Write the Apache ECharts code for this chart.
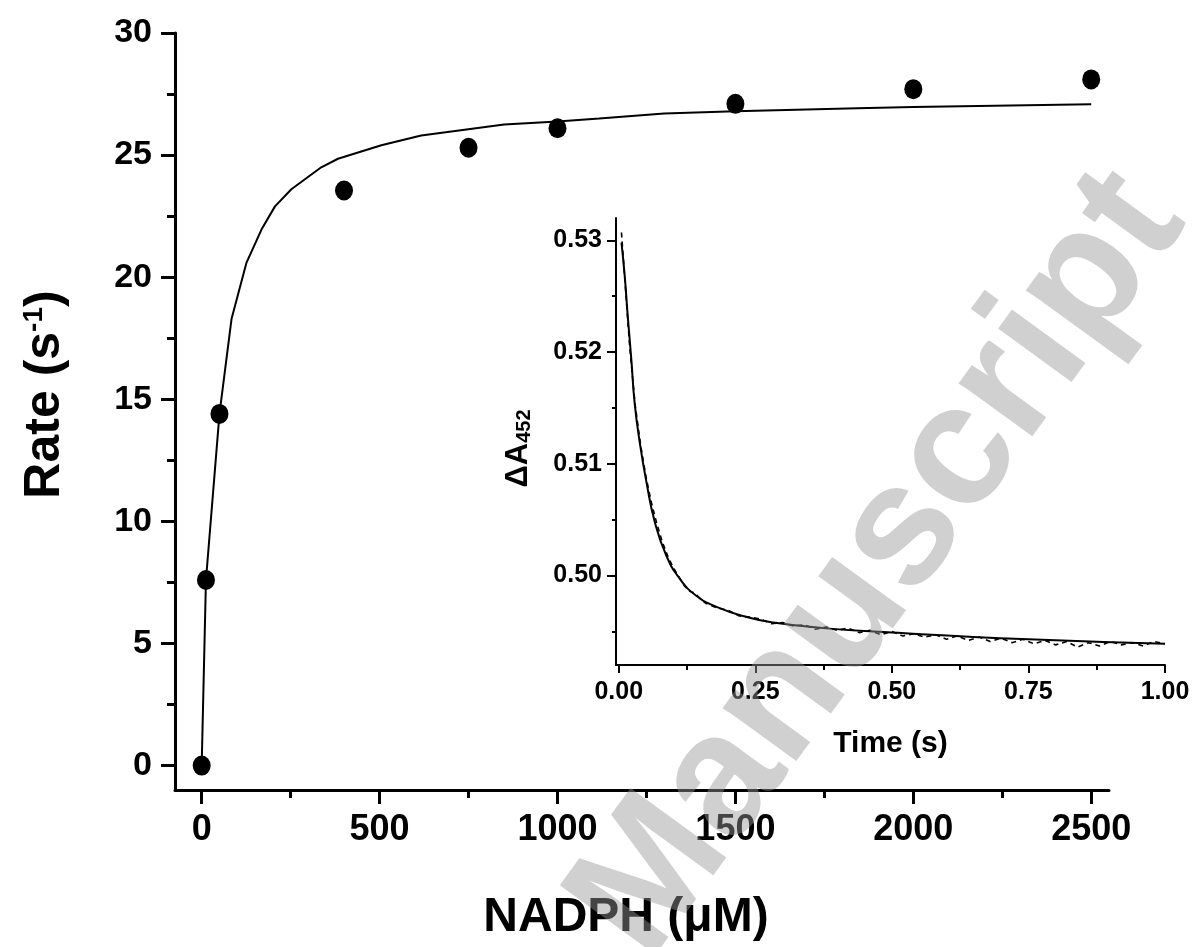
<!DOCTYPE html>
<html>
<head>
<meta charset="utf-8">
<script src="https://cdn.jsdelivr.net/npm/echarts@6/dist/echarts.min.js"></script>
<style>
  html, body { margin: 0; padding: 0; background: #fff; }
  #chart { width: 1196px; height: 947px; }
</style>
</head>
<body>
<div id="chart"></div>
<script>
// main panel: rate vs NADPH
const nadph = [0, 12, 50, 400, 750, 1000, 1500, 2000, 2500]
const rate = [0, 7.6, 14.4, 23.55, 25.3, 26.1, 27.1, 27.7, 28.1]
// fitted curve
const fitX = [0, 12, 50, 84, 126, 168, 206, 252, 336, 383, 505, 617, 850, 1000, 1117, 1300, 1500, 1842, 2000, 2500]
const fitY = [0, 7.6, 14.4, 18.3, 20.6, 21.95, 22.9, 23.6, 24.5, 24.85, 25.4, 25.8, 26.25, 26.38, 26.5, 26.7, 26.8, 26.92, 26.97, 27.08]
const xTicks = [0, 500, 1000, 1500, 2000, 2500]
const xMinor = [250, 750, 1250, 1750, 2250]
const yTicks = [0, 5, 10, 15, 20, 25, 30]
const yMinor = [2.5, 7.5, 12.5, 17.5, 22.5, 27.5]

// inset: absorbance trace
const traceT = [0.005, 0.01, 0.02, 0.03, 0.04, 0.05, 0.06, 0.07, 0.08, 0.09, 0.10, 0.11, 0.12, 0.13, 0.14, 0.15, 0.16, 0.18, 0.20, 0.22, 0.24, 0.26, 0.28, 0.30, 0.32, 0.34, 0.36, 0.38, 0.40, 0.42, 0.44, 0.46, 0.48, 0.50, 0.52, 0.54, 0.56, 0.58, 0.60, 0.62, 0.64, 0.66, 0.68, 0.70, 0.72, 0.74, 0.76, 0.78, 0.80, 0.82, 0.84, 0.86, 0.88, 0.90, 0.92, 0.94, 0.96, 0.98, 1.00]
const traceA = [0.5307, 0.5273, 0.5205, 0.5153, 0.5117, 0.5088, 0.5065, 0.5046, 0.5030, 0.5017, 0.5007, 0.4999, 0.4991, 0.4986, 0.4984, 0.4979, 0.4975, 0.4971, 0.4969, 0.4964, 0.4963, 0.4961, 0.4957, 0.4958, 0.4955, 0.4956, 0.4952, 0.4954, 0.4951, 0.4953, 0.4949, 0.4951, 0.4947, 0.4950, 0.4946, 0.4948, 0.4945, 0.4947, 0.4943, 0.4946, 0.4942, 0.4945, 0.4941, 0.4944, 0.4940, 0.4943, 0.4939, 0.4942, 0.4938, 0.4941, 0.4936, 0.4940, 0.4937, 0.4941, 0.4938, 0.4940, 0.4937, 0.4941, 0.4939]
const decayT = [0.005, 0.011, 0.017, 0.023, 0.029, 0.0385, 0.051, 0.066, 0.087, 0.112, 0.142, 0.179, 0.234, 0.283, 0.374, 0.5, 0.75, 1.0]
const decayA = [0.5298, 0.5268, 0.5229, 0.5194, 0.5155, 0.5119, 0.5083, 0.5048, 0.5018, 0.4997, 0.4982, 0.4972, 0.4963, 0.4958, 0.4953, 0.4949, 0.4943, 0.4939]
const tTicks = [0, 0.25, 0.5, 0.75, 1.0]
const tMinor = [0.125, 0.375, 0.625, 0.875]
const aTicks = [0.50, 0.51, 0.52, 0.53]
const aMinor = [0.495, 0.505, 0.515, 0.525]

const font = "'Liberation Sans', Arial, sans-serif"

function pairs(xs, ys) {
  return xs.map((x, i) => [x, ys[i]])
}

// a major axis (line, long ticks, labels) and a bare one for the minor ticks
function majorAxis(grid, min, max, ticks, o) {
  return {
    type: 'value', gridIndex: grid, min, max, position: o.position,
    splitLine: {show: false},
    axisLine: {show: true, onZero: false, lineStyle: {color: '#000', width: o.width}},
    axisTick: {show: true, customValues: ticks, length: o.tick, lineStyle: {color: '#000', width: o.width}},
    axisLabel: {
      show: true, customValues: ticks, margin: o.margin, color: '#000',
      fontSize: o.fontSize, fontWeight: 'bold', fontFamily: font,
      formatter: o.formatter || (v => String(v))
    },
    name: o.name, nameLocation: 'middle', nameGap: o.nameGap, nameRotate: o.nameRotate,
    nameTextStyle: o.nameTextStyle
  }
}
function minorAxis(grid, min, max, ticks, pos, len, width) {
  return {
    type: 'value', gridIndex: grid, min, max, position: pos,
    splitLine: {show: false},
    axisLine: {show: false, onZero: false},
    axisTick: {show: true, customValues: ticks, length: len, lineStyle: {color: '#000', width}},
    axisLabel: {show: false}
  }
}

const chart = echarts.init(document.getElementById('chart'))
chart.setOption({
  animation: false,
  backgroundColor: '#fff',
  grid: [
    {left: 175, top: 33, width: 934, height: 758},
    {left: 616, top: 218, width: 549, height: 447}
  ],
  xAxis: [
    majorAxis(0, -75, 2550, xTicks, {
      position: 'bottom', width: 3, tick: 14, margin: 22, fontSize: 36,
      name: 'NADPH (\u03bcM)', nameGap: 104,
      nameTextStyle: {fontSize: 48, fontWeight: 'bold', fontFamily: font, color: '#000', padding: [0, 32, 0, 0]}
    }),
    minorAxis(0, -75, 2550, xMinor, 'bottom', 8, 3),
    majorAxis(1, -0.005, 1.0, tTicks, {
      position: 'bottom', width: 2, tick: 8, margin: 15, fontSize: 25,
      formatter: v => v.toFixed(2),
      name: 'Time (s)', nameGap: 64,
      nameTextStyle: {fontSize: 30, fontWeight: 'bold', fontFamily: font, color: '#000'}
    }),
    minorAxis(1, -0.005, 1.0, tMinor, 'bottom', 5, 2)
  ],
  yAxis: [
    majorAxis(0, -1, 30, yTicks, {
      position: 'left', width: 3, tick: 14, margin: 23, fontSize: 34,
      name: '{t|Rate (s}{s|-1}{t|)}', nameGap: 105, nameRotate: 90,
      nameTextStyle: {
        color: '#000', padding: [0, 0, 0, 34],
        rich: {
          t: {fontSize: 50, fontWeight: 'bold', fontFamily: font, color: '#000'},
          s: {fontSize: 28, fontWeight: 'bold', fontFamily: font, color: '#000', verticalAlign: 'top'}
        }
      }
    }),
    minorAxis(0, -1, 30, yMinor, 'left', 8, 3),
    majorAxis(1, 0.492, 0.532, aTicks, {
      position: 'left', width: 2, tick: 9, margin: 14, fontSize: 25,
      formatter: v => v.toFixed(2),
      name: '{t|\u0394A}{s|452}', nameGap: 82, nameRotate: 90,
      nameTextStyle: {
        color: '#000', padding: [0, 14, 0, 0],
        rich: {
          t: {fontSize: 31, fontWeight: 'bold', fontFamily: font, color: '#000'},
          s: {fontSize: 20, fontWeight: 'bold', fontFamily: font, color: '#000', verticalAlign: 'bottom'}
        }
      }
    }),
    minorAxis(1, 0.492, 0.532, aMinor, 'left', 4, 2)
  ],
  series: [
    {
      type: 'line', xAxisIndex: 0, yAxisIndex: 0,
      data: pairs(fitX, fitY), showSymbol: false, smooth: false,
      lineStyle: {color: '#000', width: 2}
    },
    {
      type: 'scatter', xAxisIndex: 0, yAxisIndex: 0,
      data: pairs(nadph, rate), symbol: 'circle', symbolSize: [18, 20],
      itemStyle: {color: '#000', opacity: 1}
    },
    {
      type: 'line', xAxisIndex: 2, yAxisIndex: 2,
      data: pairs(traceT, traceA), showSymbol: false,
      lineStyle: {color: '#000', width: 1.6, type: [5, 4]}
    },
    {
      type: 'line', xAxisIndex: 2, yAxisIndex: 2,
      data: pairs(decayT, decayA), showSymbol: false, smooth: true,
      lineStyle: {color: '#000', width: 2}
    }
  ],
  graphic: [
    {
      type: 'text', x: 880, y: 565, rotation: 54 * Math.PI / 180, z: 100,
      style: {
        text: 'Manuscript', font: 'bold 172px ' + font,
        fill: 'rgba(150,150,150,0.45)', align: 'center', verticalAlign: 'middle'
      }
    }
  ]
})
</script>
</body>
</html>
